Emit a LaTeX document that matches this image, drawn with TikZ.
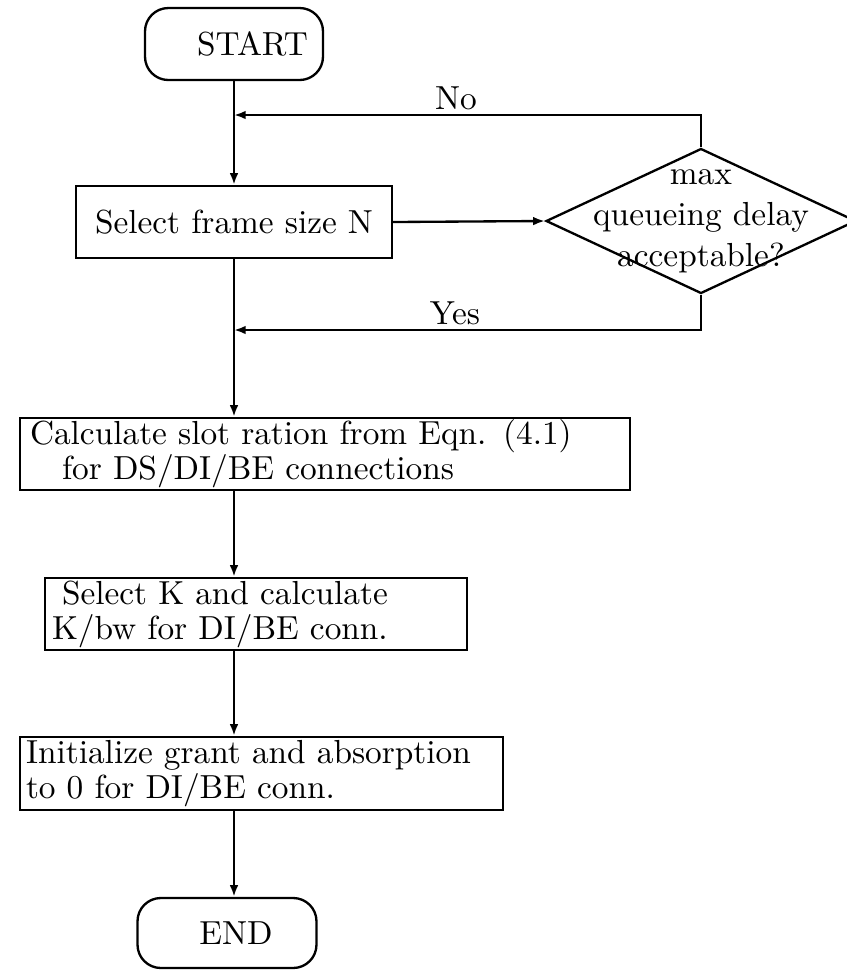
\documentclass[tikz,border=0pt]{standalone}
\usetikzlibrary{shapes.geometric,arrows.meta}
\begin{document}
\begin{tikzpicture}[x=0.3pt,y=-0.3pt, line width=0.7pt,
  box/.style={draw, rectangle, inner ysep=0pt, align=left, font=\fontsize{10}{10.5}\selectfont},
  term/.style={draw, rounded corners=7pt, inner sep=0pt, font=\fontsize{10}{12}\selectfont},
  arr/.style={-{Latex[length=3.5pt,width=2.6pt]}},
  lbl/.style={font=\fontsize{10}{12}\selectfont, inner sep=0pt}]
\useasboundingbox (0,0) rectangle (847,970);
\node[term, minimum width=53.4pt, minimum height=21.6pt] (start) at (234,44) {\hspace*{11.1pt}START};
\node[box, minimum width=94.8pt, minimum height=21.6pt, align=center, inner xsep=1.5pt] (sel) at (234,222) {Select frame size N};
\node[draw, diamond, minimum width=93pt, minimum height=43.5pt, inner sep=0pt] (dec) at (701,221) {};
\node[lbl, align=center, font=\fontsize{10}{12.3}\selectfont] (dtxt) at (701,221) {max\\queueing delay\\acceptable?};
\node[box, inner xsep=3pt, text width=177pt, minimum height=21.6pt] (calc) at (325,454) {Calculate slot ration from Eqn. (4.1)\\\hspace*{9.6pt}for DS/DI/BE connections};
\node[box, inner xsep=2.1pt, text width=122.4pt, minimum height=21.6pt] (kbox) at (256,614) {\hspace*{3pt}Select K and calculate\\K/bw for DI/BE conn.};
\node[box, inner xsep=1.8pt, text width=141.3pt, minimum height=21.9pt] (init) at (261.5,773.5) {Initialize grant and absorption\\to 0 for DI/BE conn.};
\node[term, minimum width=53.7pt, minimum height=21pt] (end) at (227,933) {\hspace*{5.4pt}END};
\coordinate (noj) at (234,115);
\coordinate (yesj) at (234,330);
\draw[arr] (start) -- (sel);
\draw[arr] (dec.north) |- (noj);
\node[lbl] (no) at (456,98) {No};
\draw[arr] (sel.east) -- (dec.west);
\draw[arr] (dec.south) |- (yesj);
\node[lbl] (yes) at (455,313) {Yes};
\draw[arr] (sel.south) -- (sel.south |- calc.north);
\draw[arr] (calc.south -| sel.south) -- (sel.south |- kbox.north);
\draw[arr] (kbox.south -| sel.south) -- (sel.south |- init.north);
\draw[arr] (init.south -| sel.south) -- (sel.south |- end.north);
\end{tikzpicture}
\end{document}
